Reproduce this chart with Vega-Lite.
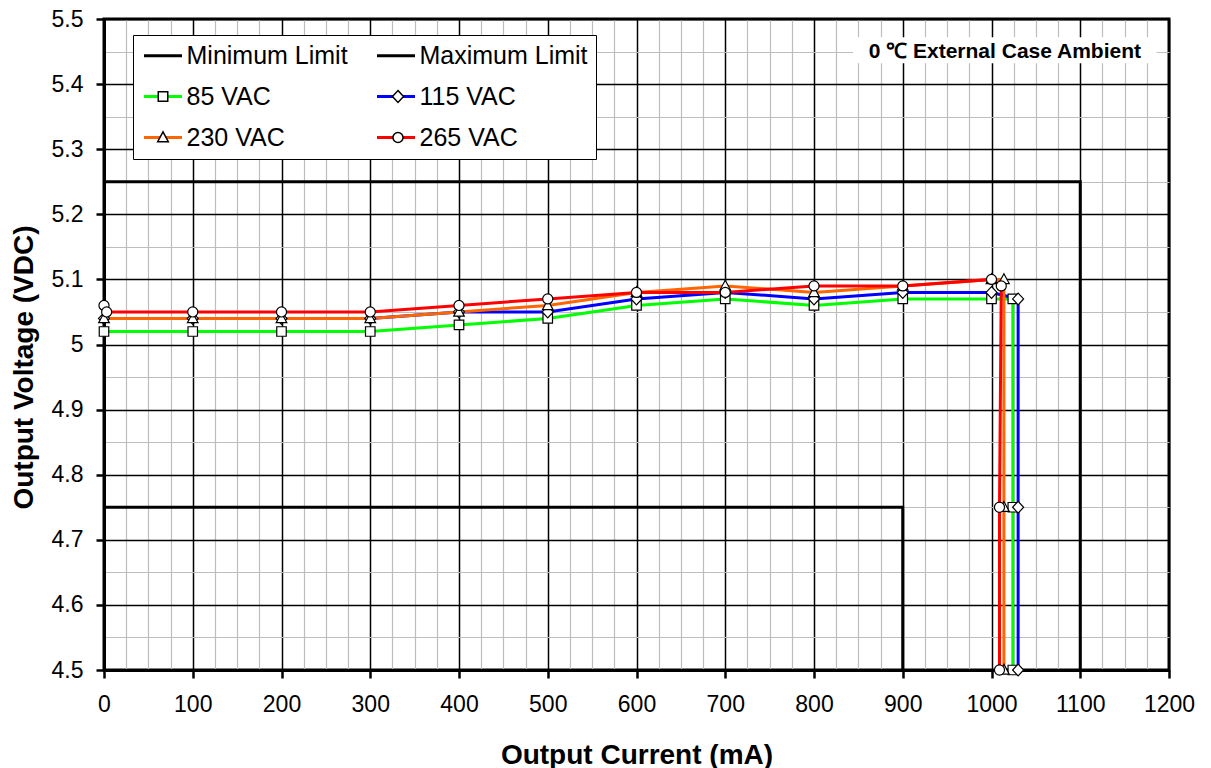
{
  "$schema": "https://vega.github.io/schema/vega-lite/v6.json",
  "width": 1065,
  "height": 651,
  "autosize": {"type": "none"},
  "padding": {"left": 104, "top": 19, "right": 42, "bottom": 98},
  "background": "white",
  "config": {
    "font": "Liberation Sans",
    "view": {"stroke": "black", "strokeWidth": 3}
  },
  "layer": [
    {
      "data": {"values": [
        {"series": "Minimum Limit", "i": 0, "I": 0, "V": 4.75},
        {"series": "Minimum Limit", "i": 1, "I": 900, "V": 4.75},
        {"series": "Minimum Limit", "i": 2, "I": 900, "V": 4.5},
        {"series": "Maximum Limit", "i": 0, "I": 0, "V": 5.25},
        {"series": "Maximum Limit", "i": 1, "I": 1100, "V": 5.25},
        {"series": "Maximum Limit", "i": 2, "I": 1100, "V": 4.5},
        {"series": "85 VAC", "i": 0, "I": 0, "V": 5.02},
        {"series": "85 VAC", "i": 1, "I": 100, "V": 5.02},
        {"series": "85 VAC", "i": 2, "I": 200, "V": 5.02},
        {"series": "85 VAC", "i": 3, "I": 300, "V": 5.02},
        {"series": "85 VAC", "i": 4, "I": 400, "V": 5.03},
        {"series": "85 VAC", "i": 5, "I": 500, "V": 5.04},
        {"series": "85 VAC", "i": 6, "I": 600, "V": 5.06},
        {"series": "85 VAC", "i": 7, "I": 700, "V": 5.07},
        {"series": "85 VAC", "i": 8, "I": 800, "V": 5.06},
        {"series": "85 VAC", "i": 9, "I": 900, "V": 5.07},
        {"series": "85 VAC", "i": 10, "I": 1000, "V": 5.07},
        {"series": "85 VAC", "i": 11, "I": 1024, "V": 5.07},
        {"series": "85 VAC", "i": 12, "I": 1024, "V": 4.75},
        {"series": "85 VAC", "i": 13, "I": 1024, "V": 4.5},
        {"series": "115 VAC", "i": 0, "I": 0, "V": 5.04},
        {"series": "115 VAC", "i": 1, "I": 100, "V": 5.04},
        {"series": "115 VAC", "i": 2, "I": 200, "V": 5.04},
        {"series": "115 VAC", "i": 3, "I": 300, "V": 5.04},
        {"series": "115 VAC", "i": 4, "I": 400, "V": 5.05},
        {"series": "115 VAC", "i": 5, "I": 500, "V": 5.05},
        {"series": "115 VAC", "i": 6, "I": 600, "V": 5.07},
        {"series": "115 VAC", "i": 7, "I": 700, "V": 5.08},
        {"series": "115 VAC", "i": 8, "I": 800, "V": 5.07},
        {"series": "115 VAC", "i": 9, "I": 900, "V": 5.08},
        {"series": "115 VAC", "i": 10, "I": 1000, "V": 5.08},
        {"series": "115 VAC", "i": 11, "I": 1030, "V": 5.07},
        {"series": "115 VAC", "i": 12, "I": 1030, "V": 4.75},
        {"series": "115 VAC", "i": 13, "I": 1030, "V": 4.5},
        {"series": "230 VAC", "i": 0, "I": 0, "V": 5.04},
        {"series": "230 VAC", "i": 1, "I": 100, "V": 5.04},
        {"series": "230 VAC", "i": 2, "I": 200, "V": 5.04},
        {"series": "230 VAC", "i": 3, "I": 300, "V": 5.04},
        {"series": "230 VAC", "i": 4, "I": 400, "V": 5.05},
        {"series": "230 VAC", "i": 5, "I": 500, "V": 5.06},
        {"series": "230 VAC", "i": 6, "I": 600, "V": 5.08},
        {"series": "230 VAC", "i": 7, "I": 700, "V": 5.09},
        {"series": "230 VAC", "i": 8, "I": 800, "V": 5.08},
        {"series": "230 VAC", "i": 9, "I": 900, "V": 5.09},
        {"series": "230 VAC", "i": 10, "I": 1000, "V": 5.1},
        {"series": "230 VAC", "i": 11, "I": 1014, "V": 5.1},
        {"series": "230 VAC", "i": 12, "I": 1014, "V": 4.75},
        {"series": "230 VAC", "i": 13, "I": 1014, "V": 4.5},
        {"series": "265 VAC", "i": 0, "I": 0, "V": 5.06},
        {"series": "265 VAC", "i": 1, "I": 3, "V": 5.05},
        {"series": "265 VAC", "i": 2, "I": 100, "V": 5.05},
        {"series": "265 VAC", "i": 3, "I": 200, "V": 5.05},
        {"series": "265 VAC", "i": 4, "I": 300, "V": 5.05},
        {"series": "265 VAC", "i": 5, "I": 400, "V": 5.06},
        {"series": "265 VAC", "i": 6, "I": 500, "V": 5.07},
        {"series": "265 VAC", "i": 7, "I": 600, "V": 5.08},
        {"series": "265 VAC", "i": 8, "I": 700, "V": 5.08},
        {"series": "265 VAC", "i": 9, "I": 800, "V": 5.09},
        {"series": "265 VAC", "i": 10, "I": 900, "V": 5.09},
        {"series": "265 VAC", "i": 11, "I": 1000, "V": 5.1},
        {"series": "265 VAC", "i": 12, "I": 1011, "V": 5.09},
        {"series": "265 VAC", "i": 13, "I": 1009, "V": 4.75},
        {"series": "265 VAC", "i": 14, "I": 1009, "V": 4.5}
      ]},
      "layer": [
        {
          "mark": {"type": "line", "strokeWidth": 3},
          "encoding": {
            "x": {
              "field": "I", "type": "quantitative",
              "scale": {"domain": [0, 1200], "nice": false, "zero": false},
              "axis": {
                "values": [0,25,50,75,100,125,150,175,200,225,250,275,300,325,350,375,400,425,450,475,500,525,550,575,600,625,650,675,700,725,750,775,800,825,850,875,900,925,950,975,1000,1025,1050,1075,1100,1125,1150,1175,1200],
                "tickCount": 200,
                "title": "Output Current (mA)",
                "titleFont": "Liberation Sans", "titleFontSize": 28, "titleFontWeight": "bold", "titleColor": "black",
                "titleBaseline": "alphabetic", "titleY": 93,
                "labelFont": "Liberation Sans", "labelFontSize": 23, "labelColor": "black",
                "labelExpr": "datum.value % 100 === 0 ? format(datum.value, 'd') : ''",
                "labelPadding": 15, "labelOverlap": false, "labelFlush": false, "labelBound": false,
                "domainColor": "black", "domainWidth": 3,
                "ticks": true, "tickSize": 8, "tickWidth": 2.5,
                "tickColor": {"condition": {"test": "datum.value % 100 === 0", "value": "black"}, "value": "transparent"},
                "grid": true, "gridOpacity": 1,
                "gridColor": {"condition": {"test": "datum.value % 100 === 0", "value": "black"}, "value": "#bdbdbd"},
                "gridWidth": {"condition": {"test": "datum.value % 100 === 0", "value": 1.5}, "value": 1.2}
              }
            },
            "y": {
              "field": "V", "type": "quantitative",
              "scale": {"domain": [4.5, 5.5], "nice": false, "zero": false},
              "axis": {
                "values": [4.5,4.55,4.6,4.65,4.7,4.75,4.8,4.85,4.9,4.95,5,5.05,5.1,5.15,5.2,5.25,5.3,5.35,5.4,5.45,5.5],
                "tickCount": 200,
                "title": "Output Voltage (VDC)",
                "titleFont": "Liberation Sans", "titleFontSize": 28, "titleFontWeight": "bold", "titleColor": "black",
                "titleBaseline": "alphabetic", "titleX": -72, "titleY": 348,
                "labelFont": "Liberation Sans", "labelFontSize": 23, "labelColor": "black",
                "labelExpr": "abs(datum.value*10 - round(datum.value*10)) < 0.001 ? format(datum.value, '~g') : ''",
                "labelPadding": 13, "labelOverlap": false, "labelFlush": false, "labelBound": false,
                "domainColor": "black", "domainWidth": 3,
                "ticks": true, "tickSize": 8, "tickWidth": 2.5,
                "tickColor": {"condition": {"test": "abs(datum.value*10 - round(datum.value*10)) < 0.001", "value": "black"}, "value": "transparent"},
                "grid": true, "gridOpacity": 1,
                "gridColor": {"condition": {"test": "abs(datum.value*10 - round(datum.value*10)) < 0.001", "value": "black"}, "value": "#bdbdbd"},
                "gridWidth": {"condition": {"test": "abs(datum.value*10 - round(datum.value*10)) < 0.001", "value": 1.5}, "value": 1.2}
              }
            },
            "color": {
              "field": "series", "type": "nominal",
              "scale": {
                "domain": ["Minimum Limit", "Maximum Limit", "85 VAC", "115 VAC", "230 VAC", "265 VAC"],
                "range": ["black", "black", "#00ff00", "#0000ff", "#ff6600", "#ff0000"]
              },
              "legend": {
                "orient": "none", "legendX": 29, "legendY": 16, "title": null, "direction": "horizontal",
                "columns": 2, "columnPadding": 23, "rowPadding": 15, "padding": 8,
                "symbolType": "M-2,0H2", "symbolSize": 361, "symbolStrokeWidth": 3, "symbolOffset": 9.5,
                "labelFont": "Liberation Sans", "labelFontSize": 25, "labelColor": "black", "labelOffset": 11, "labelLimit": 0,
                "fillColor": "white", "strokeColor": "black", "zindex": 1
              }
            },
            "order": {"field": "i", "type": "quantitative"}
          }
        },
        {
          "transform": [{"filter": "datum.series != 'Minimum Limit' && datum.series != 'Maximum Limit'"}],
          "mark": {"type": "point", "filled": true, "fill": "white", "stroke": "black", "strokeWidth": 1.2, "size": 361, "opacity": 1},
          "encoding": {
            "x": {"field": "I", "type": "quantitative"},
            "y": {"field": "V", "type": "quantitative"},
            "shape": {
              "field": "series", "type": "nominal",
              "scale": {
                "domain": ["Minimum Limit\u200b", "Maximum Limit\u200b", "85 VAC", "115 VAC", "230 VAC", "265 VAC"],
                "range": ["M0,0", "M0,0", "M-0.5,-0.5H0.5V0.5H-0.5Z", "M0,-0.62L0.58,0L0,0.62L-0.58,0Z", "M0,-0.6L0.56,0.44H-0.56Z", "M0.53,0A0.53,0.53,0,1,1,-0.53,0A0.53,0.53,0,1,1,0.53,0Z"]
              },
              "legend": {
                "orient": "none", "legendX": 29, "legendY": 16, "title": null, "direction": "horizontal",
                "columns": 2, "columnPadding": 189, "rowPadding": 15, "padding": 8,
                "symbolSize": 361, "symbolOffset": 9.5,
                "labelFont": "Liberation Sans", "labelFontSize": 25, "labelColor": "black", "labelOpacity": 0, "labelOffset": 11, "labelLimit": 0,
                "labelExpr": "' '",
                "zindex": 2
              }
            }
          }
        }
      ]
    },
    {
      "data": {"values": [{"note": "0 ℃ External Case Ambient"}]},
      "layer": [
        {
          "mark": {"type": "rect", "fill": "white"},
          "encoding": {
            "x": {"datum": 844, "type": "quantitative"},
            "x2": {"datum": 1186},
            "y": {"datum": 5.432, "type": "quantitative"},
            "y2": {"datum": 5.472}
          }
        },
        {
          "mark": {"type": "text", "font": "Liberation Sans", "fontSize": 21, "fontWeight": "bold", "color": "black", "align": "center", "baseline": "middle"},
          "encoding": {
            "x": {"datum": 1015, "type": "quantitative"},
            "y": {"datum": 5.449, "type": "quantitative"},
            "text": {"field": "note"}
          }
        }
      ]
    }
  ]
}
